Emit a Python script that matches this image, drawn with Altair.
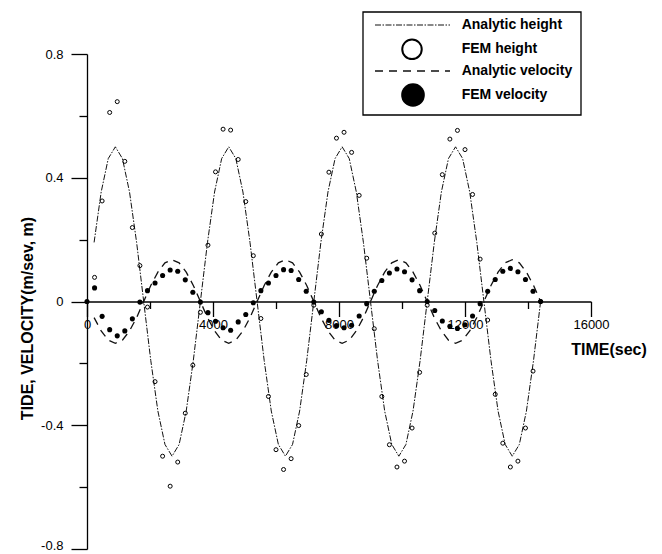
import altair as alt
import pandas as pd

# ---------------- data ----------------
analytic_time = [225, 450, 675, 900, 1125, 1350, 1575, 1800, 2025, 2250, 2475, 2700, 2925, 3150, 3375, 3600,
                 3825, 4050, 4275, 4500, 4725, 4950, 5175, 5400, 5625, 5850, 6075, 6300, 6525, 6750, 6975, 7200,
                 7425, 7650, 7875, 8100, 8325, 8550, 8775, 9000, 9225, 9450, 9675, 9900, 10125, 10350, 10575, 10800,
                 11025, 11250, 11475, 11700, 11925, 12150, 12375, 12600, 12825, 13050, 13275, 13500, 13725, 13950, 14175, 14400]
analytic_height = [0.191, 0.354, 0.462, 0.5, 0.462, 0.354, 0.191, 0.0, -0.191, -0.354, -0.462, -0.5, -0.462, -0.354, -0.191, 0.0,
                   0.191, 0.354, 0.462, 0.5, 0.462, 0.354, 0.191, 0.0, -0.191, -0.354, -0.462, -0.5, -0.462, -0.354, -0.191, 0.0,
                   0.191, 0.354, 0.462, 0.5, 0.462, 0.354, 0.191, 0.0, -0.191, -0.354, -0.462, -0.5, -0.462, -0.354, -0.191, 0.0,
                   0.191, 0.354, 0.462, 0.5, 0.462, 0.354, 0.191, 0.0, -0.191, -0.354, -0.462, -0.5, -0.462, -0.354, -0.191, 0.0]
analytic_velocity = [-0.052, -0.095, -0.125, -0.135, -0.125, -0.095, -0.052, 0.0, 0.052, 0.095, 0.125, 0.135, 0.125, 0.095, 0.052, 0.0,
                     -0.052, -0.095, -0.125, -0.135, -0.125, -0.095, -0.052, 0.0, 0.052, 0.095, 0.125, 0.135, 0.125, 0.095, 0.052, 0.0,
                     -0.052, -0.095, -0.125, -0.135, -0.125, -0.095, -0.052, 0.0, 0.052, 0.095, 0.125, 0.135, 0.125, 0.095, 0.052, 0.0,
                     -0.052, -0.095, -0.125, -0.135, -0.125, -0.095, -0.052, 0.0, 0.052, 0.095, 0.125, 0.135, 0.125, 0.095, 0.052, 0.0]

fem_time = [0, 240, 480, 720, 960, 1200, 1440, 1680, 1920, 2160, 2400, 2640, 2880, 3120, 3360, 3600,
            3840, 4080, 4320, 4560, 4800, 5040, 5280, 5520, 5760, 6000, 6240, 6480, 6720, 6960, 7200,
            7440, 7680, 7920, 8160, 8400, 8640, 8880, 9120, 9360, 9600, 9840, 10080, 10320, 10560, 10800,
            11040, 11280, 11520, 11760, 12000, 12240, 12480, 12720, 12960, 13200, 13440, 13680, 13920, 14160, 14400]
fem_height = [0.0, 0.078, 0.325, 0.611, 0.646, 0.453, 0.239, 0.116, -0.018, -0.259, -0.500, -0.597, -0.519, -0.361, -0.206, -0.035,
              0.182, 0.419, 0.557, 0.554, 0.459, 0.323, 0.148, -0.055, -0.307, -0.479, -0.543, -0.508, -0.401, -0.236, -0.012,
              0.218, 0.418, 0.528, 0.547, 0.482, 0.343, 0.140, -0.088, -0.307, -0.463, -0.535, -0.516, -0.409, -0.229, -0.012,
              0.221, 0.410, 0.525, 0.553, 0.491, 0.346, 0.137, -0.060, -0.300, -0.458, -0.535, -0.516, -0.409, -0.225, 0.0]
fem_velocity = [0.0, 0.044, -0.048, -0.091, -0.111, -0.095, -0.056, -0.002, 0.035, 0.060, 0.084, 0.102, 0.098, 0.070, 0.030, -0.002,
                -0.036, -0.064, -0.085, -0.093, -0.066, -0.042, -0.004, 0.035, 0.060, 0.084, 0.103, 0.100, 0.071, 0.033, -0.002,
                -0.033, -0.061, -0.078, -0.085, -0.077, -0.047, -0.007, 0.033, 0.068, 0.092, 0.105, 0.096, 0.070, 0.035, 0.000,
                -0.029, -0.063, -0.080, -0.087, -0.075, -0.047, -0.007, 0.033, 0.071, 0.098, 0.107, 0.096, 0.071, 0.033, 0.000]

x_ticks = [0, 2000, 4000, 6000, 8000, 10000, 12000, 14000, 16000]
y_ticks = [-0.8, -0.6, -0.4, -0.2, 0.0, 0.2, 0.4, 0.6, 0.8]
legend_labels = ["Analytic height", "FEM height", "Analytic velocity", "FEM velocity"]
x_title = "TIME(sec)"
y_title = "TIDE, VELOCITY(m/sev, m)"

FONT = "Liberation Sans"
W, H = 504, 495

ana_h = pd.DataFrame({"t": analytic_time, "val": analytic_height})
ana_v = pd.DataFrame({"t": analytic_time, "val": analytic_velocity})
fem_h = pd.DataFrame({"t": fem_time, "val": fem_height}).iloc[1:]
fem_v = pd.DataFrame({"t": fem_time, "val": fem_velocity})

x_axis = alt.Axis(
    values=x_ticks, format="d",
    labelExpr="datum.value % 4000 == 0 ? datum.label : ''",
    tickSize={"condition": {"test": "datum.value % 4000 == 0", "value": 15}, "value": 7},
    offset=-H / 2, grid=False, labelFlush=False, labelOverlap=False,
    labelPadding=2, labelFontSize=13, labelFont=FONT, labelColor="black",
    domainColor="black", domainWidth=1.3, tickColor="black", tickWidth=1.3,
    title=x_title, titleX=521.5, titleY=48, titleAlign="center", titleBaseline="middle",
    titleFontSize=16, titleFontWeight="bold", titleFont=FONT, titleColor="black",
)
y_axis = alt.Axis(
    values=y_ticks,
    labelExpr="abs(round(datum.value*10)) % 4 == 0 ? (datum.value == 0 ? '0' : (datum.value < 0 ? '-' : '') + format(abs(datum.value), '.1f')) : ''",
    tickSize={"condition": {"test": "abs(round(datum.value*10)) % 4 == 0", "value": 16}, "value": 8},
    labelOffset={"condition": {"test": "datum.value < -0.7", "value": -4}, "value": 0},
    grid=False, labelFlush=False, labelOverlap=False,
    labelPadding=8, labelFontSize=13, labelFont=FONT, labelColor="black",
    domainColor="black", domainWidth=1.3, tickColor="black", tickWidth=1.3,
    title=y_title, titleX=-59.5, titleY=264, titleAngle=270, titleAlign="center", titleBaseline="middle",
    titleFontSize=16, titleFontWeight="bold", titleFont=FONT, titleColor="black",
)

xs = alt.Scale(domain=[0, 16000], nice=False, zero=False)
ys = alt.Scale(domain=[-0.8, 0.8], nice=False, zero=False)
X = alt.X("t:Q", scale=xs, axis=x_axis)
Y = alt.Y("val:Q", scale=ys, axis=y_axis)

HDASH = [6, 1.5, 1.5, 1.5]
VDASH = [8, 6]

line_h = alt.Chart(ana_h).mark_line(color="#111", strokeWidth=1, strokeDash=HDASH).encode(x=X, y=Y)
line_v = alt.Chart(ana_v).mark_line(color="#111", strokeWidth=1.3, strokeDash=VDASH).encode(x=X, y=Y)
pts_h = alt.Chart(fem_h).mark_point(shape="circle", filled=False, size=16, strokeWidth=1, color="black", opacity=1).encode(x=X, y=Y)
pts_v = alt.Chart(fem_v).mark_circle(size=26, color="black", opacity=1).encode(x=X, y=Y)

# ---------------- legend (drawn in the upper right) ----------------
one = pd.DataFrame({"a": [0]})
row_y = [-29, -4.7, 17, 41]
sym_x = 325
txt_x = 374.7
legend_layers = [
    alt.Chart(one).mark_rect(fill="white", stroke="black", strokeWidth=1.3).encode(
        x=alt.value(276), x2=alt.value(494), y=alt.value(-42), y2=alt.value(61)),
    alt.Chart(one).mark_rule(color="#111", strokeWidth=1, strokeDash=HDASH).encode(
        x=alt.value(288), x2=alt.value(363), y=alt.value(row_y[0])),
    alt.Chart(one).mark_point(shape="circle", filled=False, size=380, strokeWidth=2, color="black", opacity=1).encode(
        x=alt.value(sym_x), y=alt.value(row_y[1])),
    alt.Chart(one).mark_rule(color="#111", strokeWidth=1.3, strokeDash=VDASH).encode(
        x=alt.value(288), x2=alt.value(363), y=alt.value(row_y[2])),
    alt.Chart(one).mark_circle(size=560, color="black", opacity=1).encode(
        x=alt.value(sym_x + 1), y=alt.value(row_y[3])),
]
for lab, yy in zip(legend_labels, row_y):
    legend_layers.append(
        alt.Chart(one).mark_text(align="left", baseline="middle", font=FONT, fontSize=14,
                                 fontWeight="bold", color="black").encode(
            x=alt.value(txt_x), y=alt.value(yy), text=alt.value(lab)))

chart = alt.layer(line_h, line_v, pts_h, pts_v, *legend_layers).properties(
    width=W, height=H,
    autosize=alt.AutoSizeParams(type="none"),
    padding={"left": 87, "top": 54, "right": 71, "bottom": 5},
    background="white",
).configure_view(strokeWidth=0)

chart.save("out.html", embed_options={"renderer": "svg", "actions": False})
